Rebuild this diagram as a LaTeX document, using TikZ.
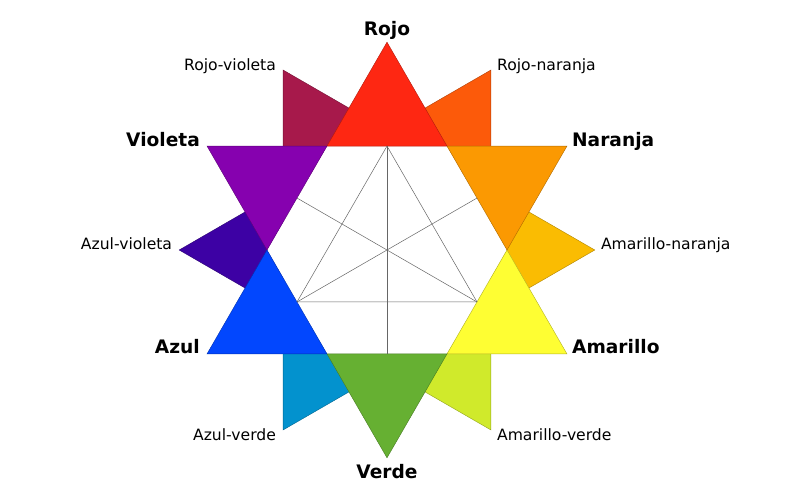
\documentclass[tikz,border=0pt]{standalone}
\usepackage{fontspec}
\setmainfont{DejaVu Sans}

\definecolor{rojo}{HTML}{FE2712}
\definecolor{rojonaranja}{HTML}{FC5A0A}
\definecolor{naranja}{HTML}{FB9902}
\definecolor{amarillonaranja}{HTML}{FABC02}
\definecolor{amarillo}{HTML}{FEFE33}
\definecolor{amarilloverde}{HTML}{D0EA2B}
\definecolor{verde}{HTML}{66B032}
\definecolor{azulverde}{HTML}{0392CE}
\definecolor{azul}{HTML}{0247FE}
\definecolor{azulvioleta}{HTML}{3D01A4}
\definecolor{violeta}{HTML}{8601AF}
\definecolor{rojovioleta}{HTML}{A7194B}

\tikzset{
  tri/.style={fill=#1, draw=#1!70!black, line width=0.4pt, line join=miter},
  inner/.style={draw=black!60, line width=0.5pt},
  small/.style={inner sep=0pt, font=\fontsize{15.6}{18}\selectfont},
  big/.style={inner sep=0pt, font=\fontsize{18.6}{22}\selectfont\bfseries}
}

\begin{document}
\begin{tikzpicture}[x=1pt, y=1pt]

\useasboundingbox (-387,-250) rectangle (413,250);

% outer points
\coordinate (rojo) at (90:207.8);
\coordinate (naranja) at (30:207.8);
\coordinate (amarillo) at (-30:207.8);
\coordinate (verde) at (-90:207.8);
\coordinate (azul) at (210:207.8);
\coordinate (violeta) at (150:207.8);
\coordinate (rn) at (60:207.8);
\coordinate (an) at (0:207.8);
\coordinate (av) at (-60:207.8);
\coordinate (zv) at (-120:207.8);
\coordinate (zvi) at (180:207.8);
\coordinate (rv) at (120:207.8);

% tertiary colours, behind
\draw[tri=rojonaranja] (rn) -- ++(210:120) -- ++(330:120) -- cycle;
\draw[tri=amarillonaranja] (an) -- ++(150:120) -- ++(270:120) -- cycle;
\draw[tri=amarilloverde] (av) -- ++(90:120) -- ++(210:120) -- cycle;
\draw[tri=azulverde] (zv) -- ++(30:120) -- ++(150:120) -- cycle;
\draw[tri=azulvioleta] (zvi) -- ++(330:120) -- ++(90:120) -- cycle;
\draw[tri=rojovioleta] (rv) -- ++(270:120) -- ++(30:120) -- cycle;

\fill[white] (0:120) -- (60:120) -- (120:120) -- (180:120) -- (240:120) -- (300:120) -- cycle;

% primary and secondary colours
\draw[tri=rojo] (rojo) -- (60:120) -- (120:120) -- cycle;
\draw[tri=naranja] (naranja) -- (0:120) -- (60:120) -- cycle;
\draw[tri=amarillo] (amarillo) -- (-60:120) -- (0:120) -- cycle;
\draw[tri=verde] (verde) -- (-120:120) -- (-60:120) -- cycle;
\draw[tri=azul] (azul) -- (180:120) -- (240:120) -- cycle;
\draw[tri=violeta] (violeta) -- (120:120) -- (180:120) -- cycle;

% inner triangle
\draw[inner] (90:103.9) -- (210:103.9) -- (330:103.9) -- cycle;
\draw[inner] (90:103.9) -- (270:103.9);
\draw[inner] (210:103.9) -- (30:103.9);
\draw[inner] (330:103.9) -- (150:103.9);

\node[big, anchor=base] (lrojo) at ([yshift=7]rojo) {Rojo};
\node[big, anchor=base west] (lnaranja) at ([xshift=5]naranja) {Naranja};
\node[big, anchor=base west] (lamarillo) at ([xshift=5]amarillo) {Amarillo};
\node[big, anchor=base] (lverde) at ([yshift=-20.7]verde) {Verde};
\node[big, anchor=base east] (lazul) at ([xshift=-7]azul) {Azul};
\node[big, anchor=base east] (lvioleta) at ([xshift=-7]violeta) {Violeta};

\node[small, anchor=base west] (lrn) at ([xshift=6]rn) {Rojo-naranja};
\node[small, anchor=base west] (lan) at ([xshift=6]an) {Amarillo-naranja};
\node[small, anchor=base west] (lav) at ([xshift=6, yshift=-11]av) {Amarillo-verde};
\node[small, anchor=base east] (lzv) at ([xshift=-7, yshift=-11]zv) {Azul-verde};
\node[small, anchor=base east] (lzvi) at ([xshift=-7]zvi) {Azul-violeta};
\node[small, anchor=base east] (lrv) at ([xshift=-7]rv) {Rojo-violeta};

\end{tikzpicture}
\end{document}
